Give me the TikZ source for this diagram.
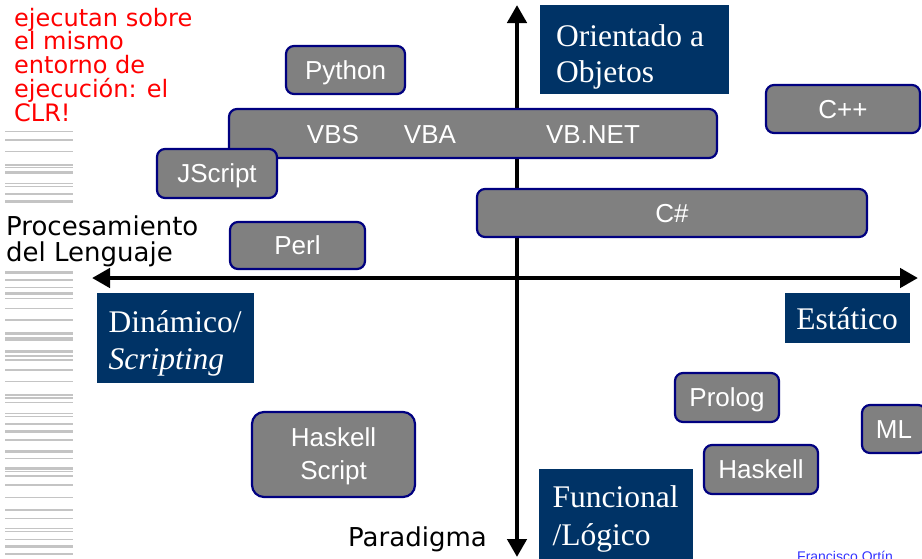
\documentclass[tikz,border=0pt]{standalone}
\usepackage{fontspec}
\setmainfont{Liberation Serif}
\newfontfamily\arialf{Liberation Sans}
\newfontfamily\verdf{DejaVu Sans}
\newfontfamily\timesf{Liberation Serif}
\usetikzlibrary{arrows.meta}
\definecolor{boxgray}{RGB}{128,128,128}
\definecolor{boxedge}{RGB}{0,0,128}
\definecolor{navyfill}{RGB}{0,51,102}
\definecolor{linegray}{RGB}{196,196,196}
\definecolor{footblue}{RGB}{51,51,255}
\definecolor{notered}{RGB}{255,0,0}
\begin{document}
\begin{tikzpicture}[x=1pt,y=-1pt,
  gbox/.style={draw=boxedge, fill=boxgray, line width=2.2pt, rounded corners=8pt,
    inner sep=0pt, text=white, font=\arialf\fontsize{26}{30}\selectfont,
    text height=18.6pt, text depth=0pt},
  gtext/.style={inner sep=0pt, text=white, font=\arialf\fontsize{26}{30}\selectfont,
    text height=18.6pt, text depth=0pt},
  htext/.style={inner sep=0pt, text=white, font=\arialf\fontsize{26}{30}\selectfont, anchor=base},
  dbox/.style={fill=navyfill, inner sep=0pt},
  dtext/.style={text=white, font=\timesf\fontsize{31.5}{37}\selectfont, inner sep=0pt, anchor=base west},
  rednote/.style={text=notered, font=\verdf\fontsize{24}{24}\selectfont, inner sep=0pt, anchor=base west},
  blacklabel/.style={text=black, font=\verdf\fontsize{26}{26}\selectfont, inner sep=0pt, anchor=base west},
  axisline/.style={line width=4.5pt, {Triangle[length=18pt,width=19pt]}-{Triangle[length=18pt,width=19pt]}},
  sideline/.style={draw=linegray}
]
\useasboundingbox (0,0) rectangle (922,558);
\clip (0,0) rectangle (922,558);

% left column of grey lines
\foreach \yy/\ww in {131.7/1.2,140/1.2,151.7/1.2,165/2.5,167.5/1.2,172.7/2.5,183.3/1.5,186.7/1.5,194/1.2,201.7/2.5,
  272.7/2.5,280/1.5,287.3/1.2,293.3/2.5,298.7/1.2,308.3/1.2,320/1.2,333.3/2.5,338/1.2,340/1.5,351.7/2.5,356/1.2,360/1.2,370/1.2,381.7/1.2,
  395/2.5,398/1.2,402.7/1.5,413.3/1.2,416.7/1.5,424/1.2,431.7/2.5,440/1.5,451.7/2.5,458.3/1.5,468.3/2.5,471.7/1.2,476/1.2,485/1.2,497.7/1.2,
  510/2.5,518.3/1.5,528.3/1.5,531.7/1.2,539.3/1.5,546.7/2.5,554/1.5}
  \draw[sideline, line width=\ww pt] (5,\yy) -- (73,\yy);

% red note
\node[rednote] (n1) at (14,26) {ejecutan sobre};
\node[rednote] (n2) at (14,49.5) {el mismo};
\node[rednote] (n3) at (14,73.5) {entorno de};
\node[rednote] (n4) at (14,97.5) {ejecución: el};
\node[rednote] (n5) at (14,121.5) {CLR!};

% axis labels
\node[blacklabel] (proc1) at (6,235.5) {Procesamiento};
\node[blacklabel] (proc2) at (6,261.3) {del Lenguaje};
\node[blacklabel] (parad) at (348,546) {Paradigma};

% axes
\coordinate (vtop) at (517,5);
\coordinate (vbot) at (517,557);
\coordinate (hleft) at (92,278);
\coordinate (hright) at (918,278);
\draw[axisline] (vbot) -- (vtop);
\draw[axisline] (hleft) -- (hright);

% navy category boxes
\node[dbox, minimum width=189pt, minimum height=89pt] (oo) at (634.5,49.5) {};
\node[dtext] (oo1) at (556,46) {Orientado a};
\node[dtext] (oo2) at (556,82.5) {Objetos};

\node[dbox, minimum width=125pt, minimum height=50pt] (est) at (847.5,318) {};
\node[dtext, anchor=base] (est1) at (847,329) {Estático};

\node[dbox, minimum width=157pt, minimum height=90pt] (din) at (175.5,338) {};
\node[dtext] (din1) at (108.5,332) {Dinámico/};
\node[dtext] (din2) at (108.5,369) {\itshape Scripting};

\node[dbox, minimum width=154pt, minimum height=101pt] (fun) at (616,519.5) {};
\node[dtext] (fun1) at (552.5,507) {Funcional};
\node[dtext] (fun2) at (552.5,545) {/Lógico};

% language boxes
\node[gbox, minimum width=119pt, minimum height=48pt] (python) at (345.5,70) {Python};
\node[gbox, minimum width=488pt, minimum height=49pt] (vbox) at (473,133.5) {};
\node[gtext] (vbs) at (333,134) {VBS};
\node[gtext] (vba) at (430,134) {VBA};
\node[gtext] (vbnet) at (593,134) {VB.NET};
\node[gbox, minimum width=120pt, minimum height=49pt] (jscript) at (217,173.5) {JScript};
\node[gbox, minimum width=154pt, minimum height=48pt] (cpp) at (843,109) {C++};
\node[gbox, minimum width=390pt, minimum height=48pt] (csharp) at (672,213) {C\#};
\node[gbox, minimum width=135pt, minimum height=47pt] (perl) at (297.5,245.5) {Perl};
\node[gbox, minimum width=104pt, minimum height=49pt] (prolog) at (727,397.5) {Prolog};
\node[gbox, minimum width=64pt, minimum height=48pt] (ml) at (894,429) {ML};
\node[gbox, minimum width=114pt, minimum height=49pt] (haskell) at (761,469.5) {Haskell};
\node[gbox, rounded corners=12pt, minimum width=163pt, minimum height=85pt] (hscript) at (333.5,454.5) {};
\node[htext] (hs1) at (333.5,446) {Haskell};
\node[htext] (hs2) at (333.5,479) {Script};

% footer (cut by the lower edge, as in the reference)
\node[inner sep=0pt, anchor=base west, text=footblue, font=\arialf\fontsize{14}{14}\selectfont] (foot) at (797,561) {Francisco Ortín};
\end{tikzpicture}
\end{document}
